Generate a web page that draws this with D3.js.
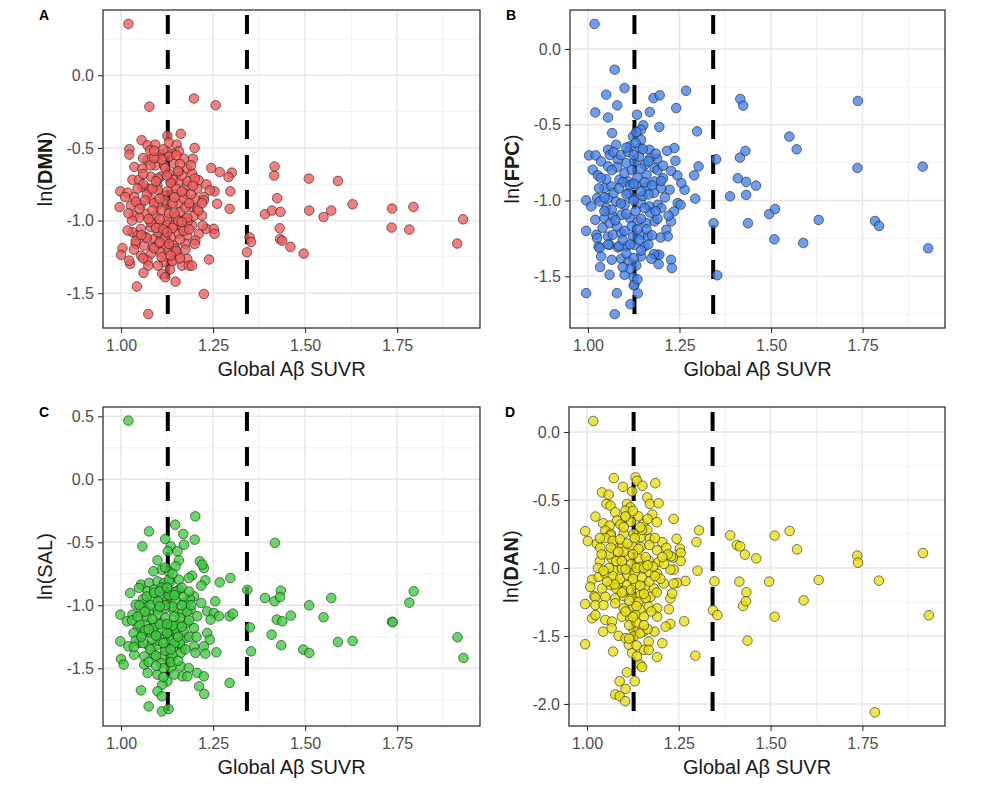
<!DOCTYPE html>
<html><head><meta charset="utf-8">
<script src="https://cdn.jsdelivr.net/npm/d3@7"></script>
<style>body{margin:0;background:#fff;} text{font-family:"Liberation Sans",Arial,Helvetica,sans-serif;}</style>
</head><body><svg id="c" width="986" height="796"></svg>
<script>
// ---------- data ----------
const xTicks = [1.00, 1.25, 1.50, 1.75];
const xMinorTicks = [1.125, 1.375, 1.625, 1.875];
const xDomain = [0.951, 1.975];
const thresholds = [1.127, 1.342];
const panelLetters = ["A", "B", "C", "D"];
const networkNames = ["DMN", "FPC", "SAL", "DAN"];
const networkBold = [true, true, false, true];
const xTitle = "Global A\u03b2 SUVR";
const yTicksA = [0, -0.5, -1, -1.5];
const yTicksB = [0, -0.5, -1, -1.5];
const yTicksC = [0.5, 0, -0.5, -1, -1.5];
const yTicksD = [0, -0.5, -1, -1.5, -2];
const yDomainA = [-1.739, 0.449];
const yDomainB = [-1.841, 0.257];
const yDomainC = [-1.958, 0.574];
const yDomainD = [-2.162, 0.184];
const fillColors = ["#f25a5a", "#4282ec", "#3ccc3c", "#e8df10"];

const dmnPoints = [
[1.02,0.353],[1.077,-0.216],[1.198,-0.16],[1.257,-0.206],
[1.126,-0.417],[1.162,-0.403],[1.056,-0.447],[1.072,-0.482],[1.093,-0.477],[1.0225,-0.509],[1.0225,-0.546],[1.079,-0.516],[1.13,-0.463],[1.151,-0.477],[1.2,-0.5],[1.157,-0.523],[1.14,-0.539],[1.108,-0.546],[1.126,-0.528],[1.195,-0.574],[1.072,-0.585],[1.097,-0.569],[1.171,-0.574],[1.245,-0.638],[1.268,-0.666],[1.301,-0.67],[1.292,-0.7],[1.036,-0.631],[1.058,-0.643],[1.093,-0.62],[1.117,-0.62],[1.144,-0.608],[1.18,-0.643],[1.193,-0.677],[1.031,-0.719],[1.049,-0.719],[1.081,-0.697],[1.108,-0.697],[1.13,-0.677],[1.157,-0.666],[1.211,-0.723],[1.232,-0.751],[1.254,-0.799],[1.297,-0.799],[1.241,-0.792],[0.998,-0.799],[1.018,-0.808],[1.058,-0.769],[1.076,-0.781],[1.099,-0.758],[1.135,-0.735],[1.157,-0.735],[1.18,-0.758],[1.207,-0.781],[1.011,-0.838],[1.036,-0.838],[1.081,-0.85],[1.113,-0.827],[1.144,-0.815],[1.173,-0.815],[1.2,-0.85],[1.225,-0.838],[1.225,-0.861],[1.261,-0.884],[1.295,-0.919],[0.996,-0.907],[1.027,-0.896],[1.054,-0.891],[1.099,-0.896],[1.126,-0.9],[1.157,-0.884],[1.189,-0.907],[1.207,-0.919],[1.036,-0.965],[1.067,-0.953],[1.094,-0.965],[1.126,-0.988],[1.148,-0.976],[1.175,-0.988],[1.198,-0.969],[1.22,-0.965],[1.031,-1.08],[1.054,-1.057],[1.081,-1.045],[1.103,-1.029],[1.126,-1.029],[1.144,-1.034],[1.166,-1.057],[1.193,-1.034],[1.211,-1.091],[1.232,-1.057],[1.252,-1.057],[1.254,-1.091],[1.222,-1.034],[1.018,-1.068],[1.045,-1.103],[1.067,-1.114],[1.09,-1.126],[1.108,-1.103],[1.135,-1.114],[1.157,-1.091],[1.18,-1.103],[1.202,-1.137],[1.04,-1.16],[1.063,-1.172],[1.086,-1.183],[1.103,-1.16],[1.121,-1.183],[1.144,-1.172],[1.175,-1.16],[1.004,-1.19],[1.0,-1.236],[1.108,-1.218],[1.13,-1.206],[1.148,-1.195],[1.153,-1.241],[1.081,-1.229],[1.054,-1.241],[1.025,-1.298],[1.022,-1.275],[1.072,-1.275],[1.074,-1.31],[1.117,-1.287],[1.139,-1.275],[1.18,-1.264],[1.166,-1.31],[1.184,-1.31],[1.193,-1.31],[1.239,-1.268],[1.133,-1.337],[1.061,-1.36],[1.112,-1.367],[1.148,-1.42],[1.043,-1.454],[1.225,-1.505],[1.074,-1.643],
[1.06,-0.75],[1.07,-0.82],[1.09,-0.88],[1.10,-0.79],[1.11,-0.93],[1.12,-0.86],[1.13,-0.95],[1.14,-0.88],[1.15,-0.78],[1.16,-0.94],[1.17,-0.85],[1.18,-0.73],[1.19,-0.82],[1.05,-0.98],[1.08,-1.01],[1.10,-1.08],[1.12,-1.12],[1.14,-1.05],[1.16,-1.13],[1.18,-1.01],[1.07,-1.12],[1.09,-1.19],[1.11,-1.25],[1.13,-1.16],[1.15,-1.21],[1.17,-1.07],[1.06,-0.68],[1.08,-0.62],[1.10,-0.71],[1.12,-0.64],[1.14,-0.72],[1.16,-0.61],[1.13,-0.56],[1.11,-0.58],[1.15,-0.55],[1.09,-0.57],[1.04,-0.87],[1.05,-0.92],[1.03,-1.0],[1.02,-0.95],[1.04,-1.14],[1.06,-1.26],[1.10,-1.31],[1.14,-1.28],[1.12,-1.39],[1.16,-1.26],[1.20,-1.16],[1.21,-0.93],[1.22,-0.88],[1.20,-0.71],[1.19,-0.62],[1.18,-0.98],[1.125,-0.80],[1.135,-0.74],[1.105,-0.99],[1.095,-1.05],[1.085,-0.93],[1.155,-1.00],[1.165,-0.69],[1.175,-0.91],
[1.065,-0.86],[1.085,-0.78],[1.105,-0.85],[1.125,-0.69],[1.145,-0.95],[1.165,-0.80],[1.185,-0.88],[1.075,-0.99],[1.095,-0.73],[1.115,-1.06],[1.135,-1.24],[1.155,-0.66],[1.175,-1.20],[1.055,-1.10],[1.045,-0.78],[1.035,-1.20],[1.105,-1.15],[1.125,-1.08],[1.145,-0.84],[1.165,-1.01],[1.185,-1.06],[1.195,-0.76],[1.09,-0.52],[1.115,-0.51],[1.06,-0.57],
[1.342,-1.218],[1.349,-1.115],[1.353,-1.147],[1.391,-0.956],[1.41,-0.931],[1.416,-0.69],[1.417,-0.628],[1.424,-0.846],[1.431,-1.053],[1.432,-1.128],[1.433,-0.94],[1.438,-1.138],[1.46,-1.181],[1.496,-1.227],[1.51,-0.711],[1.511,-0.931],[1.55,-0.975],[1.571,-0.931],[1.589,-0.727],[1.629,-0.888],[1.735,-1.048],[1.736,-0.917],[1.783,-1.062],[1.794,-0.906],[1.913,-1.158],[1.929,-0.991]
];

const fpcPoints = [
[1.018,0.165],
[1.073,-0.137],[1.1,-0.258],[1.05,-0.302],[1.08,-0.372],[1.02,-0.419],[1.055,-0.452],[1.179,-0.324],[1.196,-0.306],[1.268,-0.276],[1.241,-0.39],[1.134,-0.434],[1.169,-0.416],[1.151,-0.504],[1.145,-0.533],[1.123,-0.577],[1.195,-0.515],[1.298,-0.544],[1.066,-0.555],[1.145,-0.599],[1.132,-0.548],[1.302,-0.775],[1.29,-0.834],[1.293,-0.988],[1.264,-0.929],[1.255,-0.885],[1.244,-0.834],[1.227,-0.804],[1.239,-0.738],[1.236,-0.654],[1.216,-0.672],[1.189,-0.724],[1.168,-0.665],[1.141,-0.654],[1.114,-0.643],[1.077,-0.632],[1.055,-0.665],[1.003,-0.702],[1.021,-0.702],[1.036,-0.742],[1.013,-0.797],[1.027,-0.834],[1.055,-0.775],[1.082,-0.731],[1.105,-0.753],[1.127,-0.742],[1.155,-0.764],[1.182,-0.786],[1.205,-0.852],[1.223,-0.929],[1.245,-1.017],[1.253,-1.028],[1.235,-1.072],[1.227,-1.138],[1.214,-1.193],[1.218,-1.237],[1.198,-1.244],[1.227,-1.391],[1.229,-1.446],[1.189,-1.358],[1.195,-1.358],[1.18,-1.354],[1.193,-1.42],[0.995,-0.999],[1.009,-1.039],[1.025,-0.984],[1.045,-0.918],[1.064,-0.907],[1.086,-0.863],[1.109,-0.874],[1.132,-0.896],[1.159,-0.907],[1.182,-0.874],[1.2,-0.918],[1.032,-1.006],[1.055,-0.984],[1.077,-1.006],[1.1,-1.028],[1.123,-0.984],[1.145,-1.017],[1.168,-1.039],[1.191,-1.028],[1.02,-1.127],[1.045,-1.116],[1.068,-1.105],[1.091,-1.094],[1.114,-1.116],[1.136,-1.138],[1.159,-1.149],[1.182,-1.138],[0.995,-1.2],[1.023,-1.226],[1.025,-1.248],[1.055,-1.237],[1.068,-1.226],[1.091,-1.215],[1.123,-1.237],[1.145,-1.226],[1.164,-1.237],[1.029,-1.303],[1.032,-1.314],[1.059,-1.292],[1.082,-1.31],[1.105,-1.303],[1.127,-1.292],[1.155,-1.303],[1.036,-1.369],[1.065,-1.391],[1.091,-1.384],[1.111,-1.402],[1.132,-1.428],[1.145,-1.369],[1.173,-1.384],[1.033,-1.439],[1.059,-1.49],[1.1,-1.49],[1.125,-1.508],[1.127,-1.556],[1.125,-1.56],[1.136,-1.613],[0.995,-1.611],[1.079,-1.611],[1.116,-1.684],[1.073,-1.75],
[1.06,-0.70],[1.08,-0.78],[1.10,-0.82],[1.12,-0.80],[1.14,-0.71],[1.16,-0.83],[1.18,-0.95],[1.20,-0.87],[1.07,-0.95],[1.09,-1.02],[1.11,-0.95],[1.13,-1.07],[1.15,-0.97],[1.17,-1.08],[1.19,-1.12],[1.05,-1.05],[1.04,-1.18],[1.06,-1.15],[1.08,-1.17],[1.10,-1.20],[1.12,-1.17],[1.14,-1.26],[1.16,-1.19],[1.05,-0.86],[1.03,-0.92],[1.07,-0.68],[1.09,-0.70],[1.11,-0.68],[1.13,-0.62],[1.15,-0.66],[1.17,-0.72],[1.19,-0.80],[1.21,-0.98],[1.22,-1.10],[1.20,-1.05],[1.085,-1.30],[1.105,-1.35],[1.125,-1.38],[1.145,-1.33],[1.165,-1.29],[1.095,-0.88],[1.115,-0.90],[1.135,-0.85],[1.155,-0.88],[1.175,-0.90],[1.125,-1.00],[1.105,-1.09],[1.145,-1.12],[1.065,-1.06],[1.045,-0.98],
[1.065,-0.80],[1.085,-0.92],[1.105,-0.96],[1.125,-0.70],[1.145,-0.79],[1.165,-0.96],[1.185,-1.07],[1.075,-1.13],[1.095,-1.26],[1.115,-1.29],[1.135,-1.19],[1.155,-1.05],[1.175,-1.23],[1.055,-1.29],[1.045,-1.07],[1.035,-0.85],[1.105,-0.65],[1.125,-0.89],[1.145,-0.94],[1.165,-0.74],[1.185,-0.69],[1.205,-0.77],[1.115,-1.45],[1.095,-1.44],[1.135,-1.52],
[1.343,-1.15],[1.35,-0.728],[1.353,-1.493],[1.388,-0.972],[1.409,-0.853],[1.415,-0.717],[1.416,-0.33],[1.424,-0.374],[1.43,-0.673],[1.432,-0.877],[1.432,-0.963],[1.437,-1.15],[1.459,-0.902],[1.495,-1.089],[1.509,-1.256],[1.511,-1.056],[1.55,-0.578],[1.57,-0.662],[1.588,-1.28],[1.63,-1.128],[1.736,-0.785],[1.737,-0.343],[1.784,-1.135],[1.795,-1.168],[1.914,-0.776],[1.929,-1.315]
];

const salPoints = [
[1.02,0.466],
[1.2016,-0.294],[1.147,-0.36],[1.076,-0.413],[1.169,-0.434],[1.2,-0.479],[1.12,-0.474],[1.171,-0.519],[1.058,-0.532],[1.135,-0.532],[1.127,-0.571],[1.153,-0.571],[1.099,-0.643],[1.157,-0.643],[1.214,-0.651],[1.225,-0.704],[1.221,-0.677],[1.111,-0.717],[1.148,-0.69],[1.088,-0.73],[1.131,-0.738],[1.193,-0.765],[1.184,-0.783],[1.229,-0.802],[1.218,-0.844],[1.268,-0.818],[1.297,-0.783],[1.054,-0.836],[1.076,-0.823],[1.099,-0.81],[1.117,-0.823],[1.135,-0.81],[1.157,-0.796],[1.025,-0.902],[1.049,-0.862],[1.072,-0.889],[1.09,-0.876],[1.112,-0.87],[1.135,-0.889],[1.157,-0.876],[1.198,-0.929],[1.187,-0.95],[1.256,-0.968],[1.218,-0.982],[1.04,-0.995],[1.063,-0.982],[1.085,-0.955],[1.108,-0.942],[1.126,-0.955],[1.148,-0.968],[1.171,-0.982],[0.998,-1.074],[1.016,-1.127],[1.031,-1.074],[1.054,-1.061],[1.076,-1.048],[1.099,-1.034],[1.121,-1.021],[1.144,-1.048],[1.166,-1.061],[1.189,-1.034],[1.207,-1.087],[1.234,-1.048],[1.252,-1.061],[1.266,-1.087],[1.243,-1.114],[1.295,-1.087],[1.304,-1.066],[1.045,-1.167],[1.067,-1.146],[1.09,-1.154],[1.112,-1.14],[1.135,-1.167],[1.157,-1.154],[1.18,-1.14],[1.198,-1.18],[1.034,-1.22],[1.058,-1.233],[1.081,-1.22],[1.103,-1.246],[1.13,-1.22],[1.153,-1.233],[1.175,-1.259],[1.234,-1.22],[1.241,-1.273],[0.998,-1.286],[1.02,-1.326],[1.049,-1.299],[1.076,-1.326],[1.099,-1.312],[1.121,-1.339],[1.144,-1.326],[1.166,-1.339],[1.198,-1.326],[1.225,-1.326],[1.036,-1.392],[1.0,-1.426],[1.007,-1.471],[1.063,-1.405],[1.09,-1.392],[1.112,-1.405],[1.135,-1.418],[1.162,-1.378],[1.202,-1.378],[1.229,-1.384],[1.259,-1.373],[1.063,-1.471],[1.108,-1.458],[1.135,-1.498],[1.162,-1.484],[1.184,-1.498],[1.072,-1.537],[1.166,-1.564],[1.18,-1.564],[1.207,-1.537],[1.225,-1.564],[1.099,-1.55],[1.126,-1.603],[1.112,-1.63],[1.054,-1.675],[1.099,-1.683],[1.111,-1.722],[1.212,-1.643],[1.226,-1.704],[1.075,-1.802],[1.111,-1.842],[1.129,-1.823],
[1.06,-0.95],[1.08,-1.00],[1.10,-1.07],[1.12,-1.10],[1.14,-1.01],[1.16,-1.10],[1.18,-1.05],[1.07,-1.09],[1.09,-1.18],[1.11,-1.20],[1.13,-1.27],[1.15,-1.19],[1.17,-1.21],[1.05,-1.15],[1.04,-1.28],[1.06,-1.30],[1.08,-1.35],[1.10,-1.28],[1.12,-1.36],[1.14,-1.40],[1.16,-1.30],[1.05,-1.00],[1.03,-1.12],[1.07,-0.93],[1.09,-0.90],[1.11,-0.86],[1.13,-0.92],[1.15,-0.89],[1.17,-0.93],[1.19,-1.00],[1.12,-1.00],[1.10,-0.97],[1.14,-1.16],[1.125,-1.22],[1.105,-1.15],[1.085,-1.27],[1.065,-1.20],[1.145,-1.30],[1.165,-1.17],[1.185,-1.25],[1.095,-1.40],[1.115,-1.50],[1.135,-1.45],[1.155,-1.44],[1.075,-1.45],[1.13,-0.80],[1.12,-0.70],[1.14,-0.75],
[1.065,-1.05],[1.085,-1.11],[1.105,-1.01],[1.125,-1.15],[1.145,-1.09],[1.165,-1.00],[1.185,-1.12],[1.075,-1.19],[1.095,-1.24],[1.115,-1.30],[1.135,-1.35],[1.155,-1.25],[1.175,-1.35],[1.055,-1.25],[1.045,-1.09],[1.035,-1.33],[1.105,-0.89],[1.125,-0.86],[1.145,-0.92],[1.165,-0.86],[1.185,-0.89],[1.205,-1.25],[1.115,-1.57],[1.095,-1.48],[1.145,-1.55],
[1.295,-1.616],
[1.343,-0.878],[1.35,-1.175],[1.353,-1.365],[1.391,-0.942],[1.409,-1.233],[1.418,-0.505],[1.417,-0.968],[1.423,-1.114],[1.434,-0.884],[1.432,-0.934],[1.435,-1.317],[1.438,-1.127],[1.461,-1.082],[1.495,-1.352],[1.511,-1.0],[1.511,-1.378],[1.55,-1.095],[1.571,-0.942],[1.589,-1.291],[1.629,-1.283],[1.736,-1.13],[1.738,-1.135],[1.783,-0.979],[1.795,-0.889],[1.914,-1.254],[1.93,-1.418]
];

const danPoints = [
[1.017,0.081],
[1.073,-0.339],[1.132,-0.334],[1.136,-0.359],[1.098,-0.403],[1.151,-0.395],[1.186,-0.376],[1.123,-0.437],[1.041,-0.444],[1.059,-0.461],[1.164,-0.481],[1.053,-0.529],[1.064,-0.541],[1.109,-0.529],[1.118,-0.554],[1.171,-0.529],[1.195,-0.524],[1.077,-0.59],[1.105,-0.578],[1.178,-0.607],[1.023,-0.622],[1.236,-0.639],[1.105,-0.627],[1.082,-0.651],[1.044,-0.671],[1.062,-0.688],[1.091,-0.68],[1.153,-0.675],[1.19,-0.663],[1.164,-0.719],[1.05,-0.724],[1.065,-0.749],[0.995,-0.729],[1.002,-0.802],[1.064,-0.761],[1.1,-0.749],[1.127,-0.749],[1.146,-0.773],[1.171,-0.785],[1.244,-0.785],[1.205,-0.81],[1.253,-0.858],[1.255,-0.89],[1.255,-0.948],[1.234,-0.924],[1.216,-0.851],[1.229,-0.914],[1.027,-0.822],[1.036,-0.851],[1.073,-0.834],[1.095,-0.841],[1.123,-0.834],[1.146,-0.846],[1.191,-0.87],[1.035,-0.948],[1.068,-0.931],[1.091,-0.924],[1.114,-0.914],[1.141,-0.931],[1.168,-0.944],[1.195,-0.956],[1.236,-1.012],[1.227,-1.012],[1.268,-1.095],[1.245,-1.109],[1.236,-1.114],[1.014,-1.085],[1.032,-1.065],[1.05,-1.041],[1.073,-1.017],[1.095,-1.004],[1.118,-1.017],[1.145,-0.992],[1.168,-1.029],[1.191,-1.041],[1.209,-1.114],[1.009,-1.139],[1.041,-1.151],[1.064,-1.126],[1.086,-1.109],[1.109,-1.126],[1.132,-1.119],[1.159,-1.134],[1.182,-1.151],[1.02,-1.207],[1.023,-1.216],[1.05,-1.212],[1.077,-1.224],[1.1,-1.207],[1.123,-1.212],[1.146,-1.199],[1.173,-1.212],[1.227,-1.224],[1.232,-1.187],[0.995,-1.265],[1.023,-1.273],[1.045,-1.273],[1.077,-1.26],[1.1,-1.297],[1.127,-1.285],[1.146,-1.309],[1.168,-1.285],[1.191,-1.297],[1.223,-1.304],[1.014,-1.37],[1.023,-1.346],[1.05,-1.382],[1.068,-1.394],[1.095,-1.358],[1.118,-1.37],[1.132,-1.346],[1.155,-1.358],[1.191,-1.358],[1.227,-1.411],[1.044,-1.468],[1.067,-1.443],[1.127,-1.455],[1.153,-1.468],[1.184,-1.468],[1.214,-1.431],[0.995,-1.56],[1.086,-1.499],[1.105,-1.516],[1.127,-1.504],[1.168,-1.541],[1.205,-1.553],[1.071,-1.614],[1.114,-1.565],[1.123,-1.626],[1.155,-1.602],[1.168,-1.602],[1.191,-1.655],[1.136,-1.65],[1.145,-1.711],[1.15,-1.728],[1.109,-1.767],[1.089,-1.833],[1.13,-1.833],[1.105,-1.889],[1.077,-1.93],[1.089,-1.943],[1.104,-1.979],
[1.06,-0.90],[1.08,-0.95],[1.10,-0.88],[1.12,-0.97],[1.14,-0.86],[1.16,-0.92],[1.18,-0.99],[1.07,-1.06],[1.09,-1.08],[1.11,-1.05],[1.13,-1.04],[1.15,-1.07],[1.17,-1.10],[1.19,-1.18],[1.05,-0.78],[1.07,-0.80],[1.09,-0.79],[1.11,-0.82],[1.13,-0.78],[1.15,-0.72],[1.17,-0.83],[1.12,-0.66],[1.10,-0.70],[1.14,-0.62],[1.08,-1.15],[1.10,-1.17],[1.12,-1.16],[1.14,-1.25],[1.16,-1.22],[1.115,-1.42],[1.135,-1.40],[1.125,-1.36],[1.105,-1.32],[1.145,-1.48],[1.165,-1.45],[1.06,-1.00],[1.04,-0.90],[1.03,-1.00],[1.20,-1.08],[1.21,-0.97],[1.22,-0.90],[1.125,-0.90],[1.135,-1.00],[1.095,-0.95],[1.155,-1.00],
[1.065,-0.85],[1.085,-0.88],[1.105,-1.01],[1.125,-1.08],[1.145,-1.13],[1.165,-0.98],[1.185,-1.06],[1.075,-1.12],[1.095,-1.18],[1.115,-1.24],[1.135,-1.28],[1.155,-1.19],[1.175,-1.32],[1.055,-1.10],[1.045,-1.02],[1.035,-0.78],[1.105,-0.62],[1.125,-0.58],[1.145,-0.70],[1.165,-0.64],[1.185,-0.78],[1.205,-0.92],[1.115,-1.52],[1.135,-1.57],[1.155,-1.42],
[1.298,-0.809],[1.305,-0.723],[1.301,-1.02],[1.295,-1.645],[1.265,-1.392],
[1.343,-1.311],[1.347,-1.098],[1.355,-1.346],[1.39,-0.76],[1.408,-0.831],[1.417,-0.841],[1.415,-1.1],[1.43,-0.902],[1.425,-1.279],[1.434,-1.179],[1.433,-1.245],[1.437,-1.534],[1.461,-0.929],[1.496,-1.1],[1.511,-0.762],[1.511,-1.358],[1.552,-0.728],[1.572,-0.863],[1.59,-1.238],[1.631,-1.088],[1.736,-0.909],[1.738,-0.961],[1.784,-2.061],[1.795,-1.093],[1.915,-0.89],[1.931,-1.348]
];

// ---------- layout ----------
const panels = [
  {pts: dmnPoints, yTicks: yTicksA, yDom: yDomainA, L:103, R:480, T:10, B:328},
  {pts: fpcPoints, yTicks: yTicksB, yDom: yDomainB, L:570, R:945, T:10, B:328},
  {pts: salPoints, yTicks: yTicksC, yDom: yDomainC, L:103, R:480, T:407, B:726},
  {pts: danPoints, yTicks: yTicksD, yDom: yDomainD, L:569, R:945, T:407, B:726}
];

const svg = d3.select("#c");
svg.append("rect").attr("width",986).attr("height",796).attr("fill","#fff");

panels.forEach((p, i) => {
  const x = d3.scaleLinear().domain(xDomain).range([p.L, p.R]);
  const y = d3.scaleLinear().domain(p.yDom).range([p.B, p.T]);
  const g = svg.append("g");
  const [y0, y1] = p.yDom;
  const yMinor = [];
  for (let k = 0; k < p.yTicks.length; k++) {
    const a = p.yTicks[k];
    [a + 0.25, a - 0.25].forEach(v => { if (v > y0 && v < y1 && !yMinor.some(m => Math.abs(m - v) < 1e-9)) yMinor.push(v); });
  }
  const grid = g.append("g");
  grid.selectAll(".gxm").data(xMinorTicks.filter(v => v > xDomain[0] && v < xDomain[1])).enter().append("line")
    .attr("x1", d => x(d)).attr("x2", d => x(d)).attr("y1", p.T).attr("y2", p.B)
    .attr("stroke", "#ebebeb").attr("stroke-width", 0.8);
  grid.selectAll(".gym").data(yMinor).enter().append("line")
    .attr("x1", p.L).attr("x2", p.R).attr("y1", d => y(d)).attr("y2", d => y(d))
    .attr("stroke", "#ebebeb").attr("stroke-width", 0.8);
  grid.selectAll(".gx").data(xTicks).enter().append("line")
    .attr("x1", d => x(d)).attr("x2", d => x(d)).attr("y1", p.T).attr("y2", p.B)
    .attr("stroke", "#e6e6e6").attr("stroke-width", 1.4);
  grid.selectAll(".gy").data(p.yTicks).enter().append("line")
    .attr("x1", p.L).attr("x2", p.R).attr("y1", d => y(d)).attr("y2", d => y(d))
    .attr("stroke", "#e6e6e6").attr("stroke-width", 1.4);

  g.selectAll(".thr").data(thresholds).enter().append("line")
    .attr("x1", d => x(d)).attr("x2", d => x(d)).attr("y1", p.T).attr("y2", p.B)
    .attr("stroke", "#000").attr("stroke-width", 4)
    .attr("stroke-dasharray", "19,16").attr("stroke-dashoffset", 30);

  g.append("g").selectAll("circle").data(p.pts).enter().append("circle")
    .attr("cx", d => x(d[0])).attr("cy", d => y(d[1])).attr("r", 4.8)
    .attr("fill", fillColors[i]).attr("fill-opacity", 0.78)
    .attr("stroke", "#1a1a1a").attr("stroke-opacity", 0.65).attr("stroke-width", 0.9);

  g.append("rect").attr("x", p.L).attr("y", p.T).attr("width", p.R - p.L).attr("height", p.B - p.T)
    .attr("fill", "none").attr("stroke", "#333").attr("stroke-width", 1.3);

  const xa = g.append("g").attr("transform", `translate(0,${p.B})`)
    .call(d3.axisBottom(x).tickValues(xTicks).tickSize(5).tickPadding(7).tickFormat(d3.format(".2f")));
  const ya = g.append("g").attr("transform", `translate(${p.L},0)`)
    .call(d3.axisLeft(y).tickValues(p.yTicks).tickSize(5).tickPadding(4).tickFormat(d => d3.format(".1f")(d).replace("\u2212", "-")));
  [xa, ya].forEach(a => {
    a.select(".domain").remove();
    a.selectAll(".tick line").attr("stroke", "#333").attr("stroke-width", 1.1);
    a.selectAll(".tick text").attr("fill", "#4d4d4d").style("font-size", "16px")
      .style("font-family", '"Liberation Sans",Arial,sans-serif');
  });

  g.append("text").attr("x", (p.L + p.R) / 2).attr("y", p.B + 48).attr("text-anchor", "middle")
    .attr("fill", "#1a1a1a").style("font-size", "20px").text(xTitle);

  const yt = g.append("text").attr("transform", `translate(${p.L - 51},${(p.T + p.B) / 2}) rotate(-90)`)
    .attr("text-anchor", "middle").attr("fill", "#1a1a1a").style("font-size", "20px");
  yt.append("tspan").text("ln(");
  yt.append("tspan").attr("font-weight", networkBold[i] ? "bold" : "normal").text(networkNames[i]);
  yt.append("tspan").text(")");

  g.append("text").attr("x", p.L - 64).attr("y", p.T + 10).attr("fill", "#000")
    .attr("font-weight", "bold").style("font-size", "14px").text(panelLetters[i]);
});
</script></body></html>
